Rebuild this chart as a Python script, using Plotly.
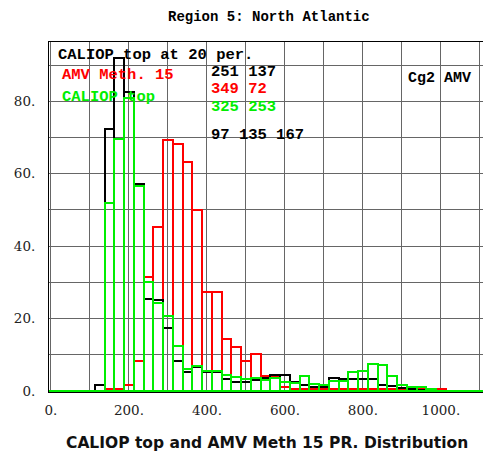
import plotly.graph_objects as go

# Pressure bins (hPa), 25 hPa wide, labelled by bin centre
bins = list(range(0, 1125, 25))

# Percent of cases per bin
caliop_20 = [0, 0, 0, 0, 0, 1.5, 72.4, 92.0, 82.5, 57.2, 25.4, 25.2, 17.3, 8.4, 5.1,
             6.6, 5.2, 5.2, 3.3, 2.4, 2.4, 3.1, 3.6, 4.4, 4.5, 2.5, 1.6, 1.2, 1.2, 3.5,
             3.4, 3.4, 3.4, 3.3, 1.5, 1.4, 0.8, 0.5, 0.3, 0.2, 0, 0, 0, 0, 0]
amv_meth15 = [0, 0, 0, 0, 0, 0, 0.4, 0.4, 1.5, 8.4, 31.5, 45.3, 69.2, 68.2, 63.2,
              50.0, 27.3, 27.3, 14.4, 12.1, 8.4, 10.2, 4.2, 3.8, 1.0, 0.5, 0.5, 0.4, 0.4, 0.4,
              0.4, 0.4, 0.4, 0.4, 0.4, 0.4, 0.4, 0.4, 0.4, 0.4, 0.4, 0, 0, 0, 0]
caliop_top = [0.1, 0.1, 0.1, 0.1, 0.1, 0.1, 51.8, 69.5, 81.0, 56.5, 30.1, 24.3, 20.8, 12.5, 6.1,
              7.0, 5.6, 5.6, 4.3, 3.8, 3.4, 3.5, 3.0, 3.5, 2.6, 2.3, 4.2, 1.8, 1.5, 2.7,
              2.7, 5.3, 5.5, 7.4, 7.2, 4.1, 1.7, 1.1, 1.0, 0.6, 0.1, 0.1, 0.1, 0.1, 0.1]

x_ticks = list(range(0, 1200, 100))
x_labels = ["0.", "", "200.", "", "400.", "", "600.", "", "800.", "", "1000.", ""]
y_ticks = list(range(0, 100, 10))
y_labels = ["0.", "", "20.", "", "40.", "", "60.", "", "80.", ""]

# Left / right columns of the key block
key_left = [("CALIOP top at 20 per.", "#000000", 0.963),
            ("AMV Meth. 15", "#ff0000", 0.906),
            ("CALIOP top", "#00ee00", 0.844)]
key_right = [("251 137", "#000000", 0.915),
             ("349 72", "#ff0000", 0.865),
             ("325 253", "#00ee00", 0.815),
             ("97 135 167", "#000000", 0.734)]

fig = go.Figure()
for vals, col in [(amv_meth15, "#ff0000"), (caliop_20, "#000000"), (caliop_top, "#00ee00")]:
    fig.add_trace(go.Bar(
        x=bins, y=vals, width=25,
        marker=dict(color="rgba(0,0,0,0)", line=dict(color=col, width=2)),
        showlegend=False, hoverinfo="skip",
    ))

mono = "Liberation Mono"
annotations = [
    dict(text="<b>Region 5: North Atlantic</b>", x=0.507, y=1.071, xref="paper", yref="paper",
         xanchor="center", yanchor="middle", showarrow=False,
         font=dict(family=mono, size=14, color="#000000")),
    dict(text="<b>CALIOP top and AMV Meth 15 PR. Distribution</b>", x=0.503, y=-0.146,
         xref="paper", yref="paper", xanchor="center", yanchor="middle", showarrow=False,
         font=dict(family="DejaVu Sans", size=15.5, color="#111111")),
    dict(text="<b>Cg2 AMV</b>", x=0.822, y=0.897, xref="paper", yref="paper",
         xanchor="left", yanchor="middle", showarrow=False,
         font=dict(family=mono, size=15, color="#000000")),
]
for txt, col, yy in key_left:
    annotations.append(dict(text="<b>" + txt + "</b>", x=0.016 if col == "#000000" else 0.026,
                            y=yy, xref="paper", yref="paper", xanchor="left", yanchor="middle",
                            showarrow=False, font=dict(family=mono, size=15.5, color=col)))
for txt, col, yy in key_right:
    annotations.append(dict(text="<b>" + txt + "</b>", x=0.369, y=yy, xref="paper",
                            yref="paper", xanchor="left", yanchor="middle", showarrow=False,
                            font=dict(family=mono, size=15.5, color=col)))

fig.update_layout(
    width=483, height=459,
    margin=dict(l=49, r=0, t=42, b=67),
    paper_bgcolor="white", plot_bgcolor="white",
    barmode="overlay", bargap=0,
    annotations=annotations,
    xaxis=dict(range=[-5, 1108], tickvals=x_ticks, ticktext=x_labels,
               showgrid=True, gridcolor="#666666", gridwidth=1, zeroline=False,
               showline=True, linecolor="#000000", linewidth=1, mirror=True,
               ticks="", ticklabelstandoff=6,
               tickfont=dict(family="DejaVu Serif", size=13.5, color="#222222")),
    yaxis=dict(range=[-0.3, 96.4], tickvals=y_ticks, ticktext=y_labels,
               showgrid=True, gridcolor="#666666", gridwidth=1, zeroline=False,
               showline=True, linecolor="#000000", linewidth=1, mirror=True,
               ticks="", ticklabelstandoff=10,
               tickfont=dict(family="DejaVu Serif", size=13.5, color="#222222")),
)

fig.write_html("out.html")
